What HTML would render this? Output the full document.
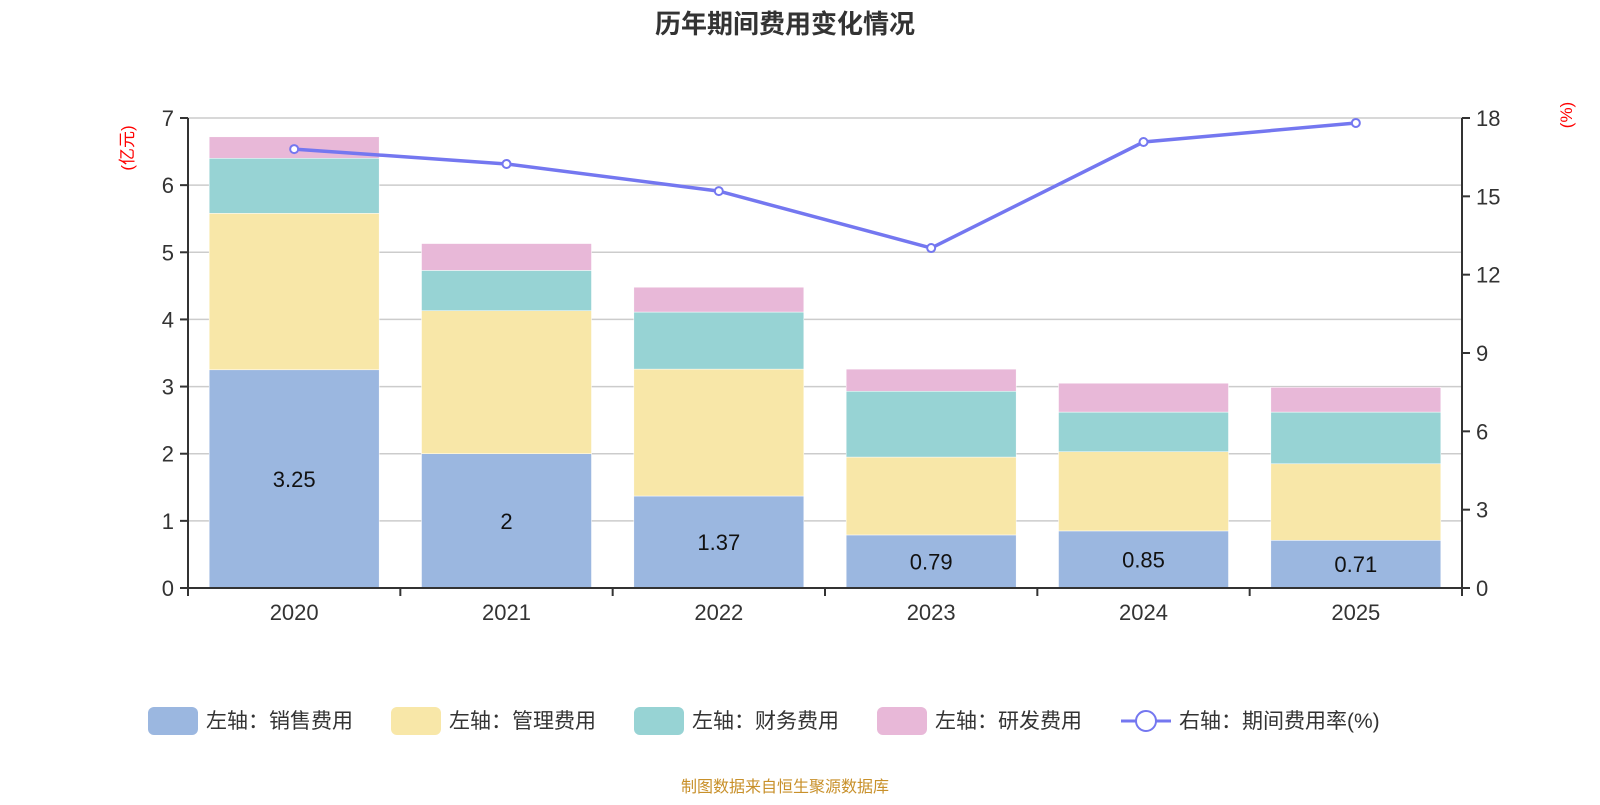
<!DOCTYPE html>
<html><head><meta charset="utf-8">
<style>
body{margin:0;background:#fff;font-family:"Liberation Sans","Noto Sans CJK SC",sans-serif;}
svg text{font-family:"Liberation Sans","Noto Sans CJK SC",sans-serif;}
</style></head>
<body>
<svg id="chart" width="1600" height="800">
<text x="785" y="33" text-anchor="middle" font-size="26" font-weight="bold" fill="#333">历年期间费用变化情况</text>
<text x="0" y="0" transform="translate(133,148) rotate(-90)" text-anchor="middle" font-size="17" fill="#f00">(亿元)</text>
<text x="0" y="0" transform="translate(1572,115) rotate(-90)" text-anchor="middle" font-size="17" fill="#f00">(%)</text>
<g id="grid"></g><g id="bars"></g><g id="axes"></g><g id="line"></g>
<g id="legend" font-size="21" fill="#333"></g>
<text x="785" y="792" text-anchor="middle" font-size="16" fill="#c8902a">制图数据来自恒生聚源数据库</text>
</svg>
<script>
const categories=["2020","2021","2022","2023","2024","2025"];
const sales=[3.25,2,1.37,0.79,0.85,0.71];
const mgmt=[2.33,2.13,1.89,1.16,1.18,1.14];
const finance=[0.82,0.6,0.85,0.98,0.59,0.77];
const rnd=[0.32,0.4,0.37,0.33,0.43,0.37];
const rate=[16.81,16.24,15.2,13.02,17.08,17.81];
const leftTicks=[0,1,2,3,4,5,6,7];
const rightTicks=[0,3,6,9,12,15,18];
const NS="http://www.w3.org/2000/svg";
const X0=188,X1=1462,Y0=588,Y1=118;
const bw=(X1-X0)/categories.length;
const yL=v=>Y0-(v/7)*(Y0-Y1);
const yR=v=>Y0-(v/18)*(Y0-Y1);
const xc=i=>X0+bw*(i+0.5);
function mk(tag,attrs,parent,txt){const e=document.createElementNS(NS,tag);for(const k in attrs)e.setAttribute(k,attrs[k]);if(txt!==undefined)e.textContent=txt;document.getElementById(parent).appendChild(e);return e;}
leftTicks.forEach(t=>{
  if(t>0){const g=mk('line',{x1:X0,x2:X1,y1:yL(t),y2:yL(t),stroke:'#ccc','stroke-width':1.5},'grid');
  
  }
  const tk=mk('line',{x1:X0-8,x2:X0,y1:yL(t),y2:yL(t),stroke:'#333','stroke-width':2},'axes');
  
  
  const l=mk('text',{x:X0-14,y:yL(t)+8,'text-anchor':'end','font-size':22,fill:'#333'},'axes',String(t));
  
  
});
rightTicks.forEach(t=>{
  const tk=mk('line',{x1:X1,x2:X1+8,y1:yR(t),y2:yR(t),stroke:'#333','stroke-width':2},'axes');
  
  
  const l=mk('text',{x:X1+14,y:yR(t)+8,'font-size':22,fill:'#333'},'axes',String(t));
  
  
});
const series=[[sales,'#9bb7e0','sales'],[mgmt,'#f8e7a8','mgmt'],[finance,'#97d3d4','finance'],[rnd,'#e8b8d8','rnd']];
categories.forEach((c,i)=>{
  let base=0;
  series.forEach(([arr,col,nm])=>{
    const r=mk('rect',{x:xc(i)-85,width:170,y:yL(base+arr[i]),height:yL(base)-yL(base+arr[i]),fill:col,stroke:'#fff','stroke-width':0.5},'bars');
    
    
    base+=arr[i];
  });
  const lb=mk('text',{x:xc(i),y:(yL(0)+yL(sales[i]))/2+8,'text-anchor':'middle','font-size':22,fill:'#111'},'bars',String(sales[i]));
  
  
  const xl=mk('text',{x:xc(i),y:620,'text-anchor':'middle','font-size':22,fill:'#333'},'axes',c);
  
  
});
for(let i=0;i<=categories.length;i++){
  const t=mk('line',{x1:X0+bw*i,x2:X0+bw*i,y1:Y0,y2:Y0+8,stroke:'#333','stroke-width':2},'axes');
  
  
}
[['x1',X0,'x2',X0,'y1',Y1,'y2',Y0,'left-axis-line'],['x1',X1,'x2',X1,'y1',Y1,'y2',Y0,'right-axis-line'],['x1',X0,'x2',X1,'y1',Y0,'y2',Y0,'x-axis-line']].forEach(a=>{
  const l=mk('line',{[a[0]]:a[1],[a[2]]:a[3],[a[4]]:a[5],[a[6]]:a[7],stroke:'#333','stroke-width':2},'axes');
  
  
});
const pl=mk('polyline',{points:rate.map((v,i)=>xc(i)+','+yR(v)).join(' '),fill:'none',stroke:'#7477f0','stroke-width':3.5},'line');


rate.forEach((v,i)=>{
  const p=mk('circle',{cx:xc(i),cy:yR(v),r:4,fill:'#fff',stroke:'#7477f0','stroke-width':2},'line');
  
  
});
const leg=[['#9bb7e0','左轴：销售费用',148],['#f8e7a8','左轴：管理费用',391],['#97d3d4','左轴：财务费用',634],['#e8b8d8','左轴：研发费用',877]];
leg.forEach(([c,t,x])=>{
  const g=mk('g',{},'legend');
  
  
  g.appendChild(Object.assign(document.createElementNS(NS,'rect'),{}));
  const r=g.lastChild;r.setAttribute('x',x);r.setAttribute('y',707);r.setAttribute('width',50);r.setAttribute('height',28);r.setAttribute('rx',6);r.setAttribute('fill',c);
  const tx=document.createElementNS(NS,'text');tx.setAttribute('x',x+58);tx.setAttribute('y',728);tx.textContent=t;g.appendChild(tx);
});
const g=mk('g',{},'legend');


const ln=document.createElementNS(NS,'line');ln.setAttribute('x1',1121);ln.setAttribute('x2',1171);ln.setAttribute('y1',721);ln.setAttribute('y2',721);ln.setAttribute('stroke','#7477f0');ln.setAttribute('stroke-width',3);g.appendChild(ln);
const ci=document.createElementNS(NS,'circle');ci.setAttribute('cx',1146);ci.setAttribute('cy',721);ci.setAttribute('r',10);ci.setAttribute('fill','#fff');ci.setAttribute('stroke','#7477f0');ci.setAttribute('stroke-width',2);g.appendChild(ci);
const tx=document.createElementNS(NS,'text');tx.setAttribute('x',1179);tx.setAttribute('y',728);tx.textContent='右轴：期间费用率(%)';g.appendChild(tx);
</script>
</body></html>
